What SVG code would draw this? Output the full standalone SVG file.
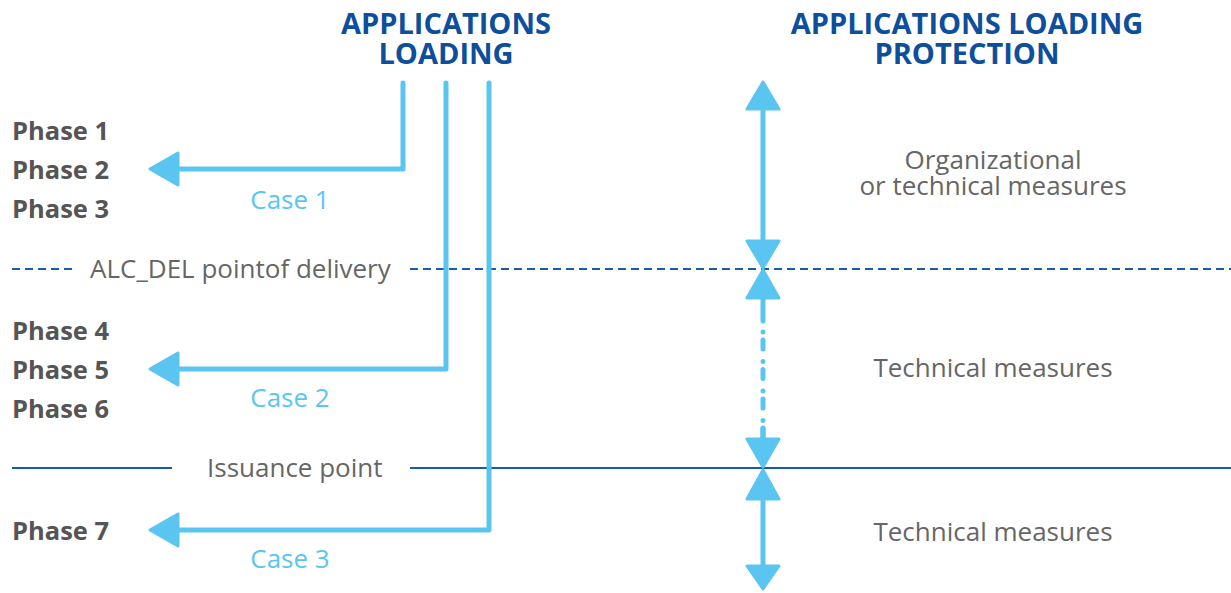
<svg xmlns="http://www.w3.org/2000/svg" width="1231" height="593" viewBox="0 0 1231 593">
<style>
.title{font-family:"Open Sans","Liberation Sans",sans-serif;font-weight:bold;font-size:29px;fill:#0d4f9c;text-anchor:middle}
.phase{font-family:"Open Sans","Liberation Sans",sans-serif;font-weight:bold;font-size:25.5px;fill:#555}
.lbl{font-family:"Open Sans","Liberation Sans",sans-serif;font-size:26px;fill:#666}
.case{font-family:"Open Sans","Liberation Sans",sans-serif;font-size:26px;fill:#5bc5f2;text-anchor:middle}
.meas{font-family:"Open Sans","Liberation Sans",sans-serif;font-size:26px;fill:#666;text-anchor:middle}
.flow{fill:none;stroke:#5bc5f2;stroke-width:5;stroke-linecap:round;stroke-linejoin:round}
.head{fill:#5bc5f2;stroke:#5bc5f2;stroke-width:3;stroke-linejoin:round}
.dash{stroke:#1a5ca8;stroke-width:2;stroke-dasharray:8 5;fill:none}
.solid{stroke:#1a5ca8;stroke-width:2;fill:none}
</style>
<g id="titles">
<text class="title" x="446" y="34">APPLICATIONS</text>
<text class="title" x="446" y="64">LOADING</text>
<text class="title" x="967" y="34">APPLICATIONS LOADING</text>
<text class="title" x="967" y="64">PROTECTION</text>
</g>
<g id="phases">
<text class="phase" x="12" y="140">Phase 1</text>
<text class="phase" x="12" y="179">Phase 2</text>
<text class="phase" x="12" y="218">Phase 3</text>
<text class="phase" x="12" y="340">Phase 4</text>
<text class="phase" x="12" y="379">Phase 5</text>
<text class="phase" x="12" y="418">Phase 6</text>
<text class="phase" x="12" y="540">Phase 7</text>
</g>
<g id="boundaries">
<line class="dash" x1="12" y1="269" x2="76" y2="269"/>
<line class="dash" x1="410" y1="269" x2="1231" y2="269"/>
<text class="lbl" x="90" y="278">ALC_DEL pointof delivery</text>
<line class="solid" x1="12" y1="468" x2="172" y2="468"/>
<line class="solid" x1="410" y1="468" x2="1231" y2="468"/>
<text class="lbl" x="207" y="477">Issuance point</text>
</g>
<g id="connectors">
<polyline class="flow" points="403,83 403,169 175,169"/>
<polygon class="head" points="150,169 178,153 178,185"/>
<polyline class="flow" points="446,83 446,369 175,369"/>
<polygon class="head" points="150,369 178,353 178,385"/>
<polyline class="flow" points="489,83 489,530 175,530"/>
<polygon class="head" points="150,530 178,514 178,546"/>
<line class="flow" x1="763" y1="105" x2="763" y2="243"/>
<polygon class="head" points="763,82 747,109 779,109"/>
<polygon class="head" points="763,268 747,241 779,241"/>
<polygon class="head" points="763,270 747,298 779,298"/>
<line class="flow" x1="763" y1="298" x2="763" y2="321"/>
<line class="flow" x1="763" y1="332" x2="763" y2="437" style="stroke-dasharray:0 8 9 12.5"/>
<line class="flow" x1="763" y1="428" x2="763" y2="440"/>
<polygon class="head" points="763,467 747,439 779,439"/>
<polygon class="head" points="763,470 747,499 779,499"/>
<line class="flow" x1="763" y1="495" x2="763" y2="570"/>
<polygon class="head" points="763,589 747,566 779,566"/>
</g>
<g id="cases">
<text class="case" x="290" y="209">Case 1</text>
<text class="case" x="290" y="407">Case 2</text>
<text class="case" x="290" y="568">Case 3</text>
</g>
<g id="measures">
<text class="meas" x="993" y="169">Organizational</text>
<text class="meas" x="993" y="195">or technical measures</text>
<text class="meas" x="993" y="377">Technical measures</text>
<text class="meas" x="993" y="541">Technical measures</text>
</g>
</svg>
